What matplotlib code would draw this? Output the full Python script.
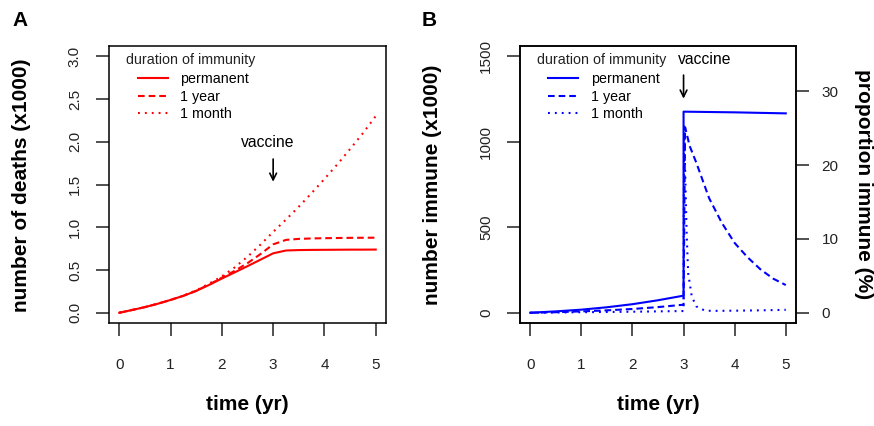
import matplotlib
matplotlib.use("Agg")
import matplotlib.pyplot as plt

plt.rcParams['font.family'] = ['Liberation Sans', 'DejaVu Sans']

# panel A: cumulative deaths (x1000)
t_deaths = [0, 0.25, 0.5, 0.75, 1, 1.25, 1.5, 1.75, 2, 2.25, 2.5, 2.75, 3,
            3.25, 3.5, 3.75, 4, 4.25, 4.5, 4.75, 5]
deaths_perm = [0, 0.032, 0.066, 0.105, 0.150, 0.198, 0.255, 0.325, 0.400, 0.472,
               0.545, 0.620, 0.695, 0.728, 0.733, 0.735, 0.736, 0.737, 0.738, 0.738, 0.739]
deaths_1yr = [0, 0.032, 0.066, 0.105, 0.150, 0.198, 0.257, 0.330, 0.410, 0.490,
              0.580, 0.685, 0.800, 0.852, 0.864, 0.869, 0.872, 0.874, 0.876, 0.877, 0.878]
deaths_1mo = [0, 0.032, 0.066, 0.105, 0.150, 0.199, 0.262, 0.340, 0.425, 0.530,
              0.655, 0.795, 0.945, 1.090, 1.240, 1.400, 1.565, 1.735, 1.915, 2.100, 2.300]

# panel B: number immune (x1000)
t_perm = [0, 0.5, 1, 1.5, 2, 2.5, 3, 3, 3.5, 4, 4.5, 5]
imm_perm = [0, 8, 18, 32, 50, 73, 100, 1176, 1174, 1172, 1169, 1166]
t_1yr = [0, 0.5, 1, 1.5, 2, 2.5, 3, 3, 3.03, 3.12, 3.25, 3.5, 3.75, 4, 4.25, 4.5, 4.75, 5]
imm_1yr = [0, 3, 8, 14, 22, 33, 47, 47, 1085, 975, 877, 670, 525, 408, 325, 255, 200, 162]
t_1mo = [0, 1, 2, 3, 3, 3.01, 3.06, 3.09, 3.16, 3.25, 3.42, 3.6, 4, 4.5, 5]
imm_1mo = [0, 3, 6, 10, 10, 1100, 467, 232, 96, 37, 12, 11, 12, 14, 17]

labels = ['permanent', '1 year', '1 month']
dashes = [None, (3.2, 1.9), (0.9, 2.4)]
pop_per_pct = 43.2   # thousands per percent

fig = plt.figure(figsize=(8.74, 4.26), dpi=100)
W, H = 874, 426
axA = fig.add_axes([109 / W, 1 - 323 / H, 277 / W, 277 / H])
axB = fig.add_axes([520 / W, 1 - 323 / H, 276 / W, 277 / H])


def style(ax):
    ax.set_xlim(-0.2, 5.2)
    ax.set_xticks(range(6))
    for s in ax.spines.values():
        s.set_linewidth(1.1)
    ax.tick_params(direction='out', length=9.5, width=1.1, labelsize=11, colors='#222')
    ax.tick_params(axis='x', pad=15.5)
    ax.tick_params(axis='y', pad=10)
    for lab in ax.get_yticklabels():
        lab.set_rotation(90)
        lab.set_va('center')


def legend(ax, color):
    ax.text(0.061, 0.949, 'duration of immunity', transform=ax.transAxes,
            fontsize=10.3, va='center', ha='left', color='#222')
    hs = []
    for lab, d in zip(labels, dashes):
        h, = ax.plot([], [], color=color, lw=1.5)
        if d:
            h.set_dashes(d)
        hs.append(h)
    ax.legend(hs, labels, loc='upper left', bbox_to_anchor=(0.103, 0.905),
              frameon=False, fontsize=10.3, handlelength=2.1, handletextpad=0.9,
              labelspacing=0.24, borderpad=0, borderaxespad=0)


# A
for y, d, lab in zip([deaths_perm, deaths_1yr, deaths_1mo], dashes, labels):
    ln, = axA.plot(t_deaths, y, color='red', lw=1.5)
    if d:
        ln.set_dashes(d)
axA.set_ylim(-0.12, 3.12)
axA.set_yticks([0, 0.5, 1, 1.5, 2, 2.5, 3])
axA.set_yticklabels(['0.0', '0.5', '1.0', '1.5', '2.0', '2.5', '3.0'])
style(axA)
legend(axA, 'red')
axA.annotate('', xy=(3, 1.50), xytext=(3, 1.83),
             arrowprops=dict(arrowstyle='->', lw=1.2, color='black', mutation_scale=12))
axA.text(2.9, 1.99, 'vaccine', ha='center', va='center', fontsize=11.3)

# B
for tt, y, d in zip([t_perm, t_1yr, t_1mo], [imm_perm, imm_1yr, imm_1mo], dashes):
    ln, = axB.plot(tt, y, color='blue', lw=1.5)
    if d:
        ln.set_dashes(d)
axB.set_ylim(-60, 1560)
axB.set_yticks([0, 500, 1000, 1500])
style(axB)
legend(axB, 'blue')
axB.annotate('', xy=(3, 1236), xytext=(3, 1406),
             arrowprops=dict(arrowstyle='->', lw=1.2, color='black', mutation_scale=12))
axB.text(3.42, 1482, 'vaccine', ha='center', va='center', fontsize=11.3)

axR = axB.twinx()
axR.set_ylim(-60 / pop_per_pct, 1560 / pop_per_pct)
axR.set_yticks([0, 10, 20, 30])
axR.tick_params(direction='out', length=9.5, width=1.1, labelsize=11, colors='#222', pad=9)
for s in axR.spines.values():
    s.set_linewidth(1.1)

# labels
fig.text(12 / W, 1 - 20 / H, 'A', fontsize=15, fontweight='bold', va='center', ha='left')
fig.text(422 / W, 1 - 20 / H, 'B', fontsize=15, fontweight='bold', va='center', ha='left')
fig.text(247.5 / W, 1 - 405 / H, 'time (yr)', fontsize=15, fontweight='bold', ha='center', va='center')
fig.text(658 / W, 1 - 405 / H, 'time (yr)', fontsize=15, fontweight='bold', ha='center', va='center')
fig.text(22 / W, 1 - 185 / H, 'number of deaths (x1000)', fontsize=15, fontweight='bold',
         rotation=90, ha='center', va='center')
fig.text(433 / W, 1 - 185 / H, 'number immune (x1000)', fontsize=15, fontweight='bold',
         rotation=90, ha='center', va='center')
fig.text(864 / W, 1 - 184 / H, 'proportion immune (%)', fontsize=15, fontweight='bold',
         rotation=270, ha='center', va='center')

fig.savefig('out.png', dpi=100)
